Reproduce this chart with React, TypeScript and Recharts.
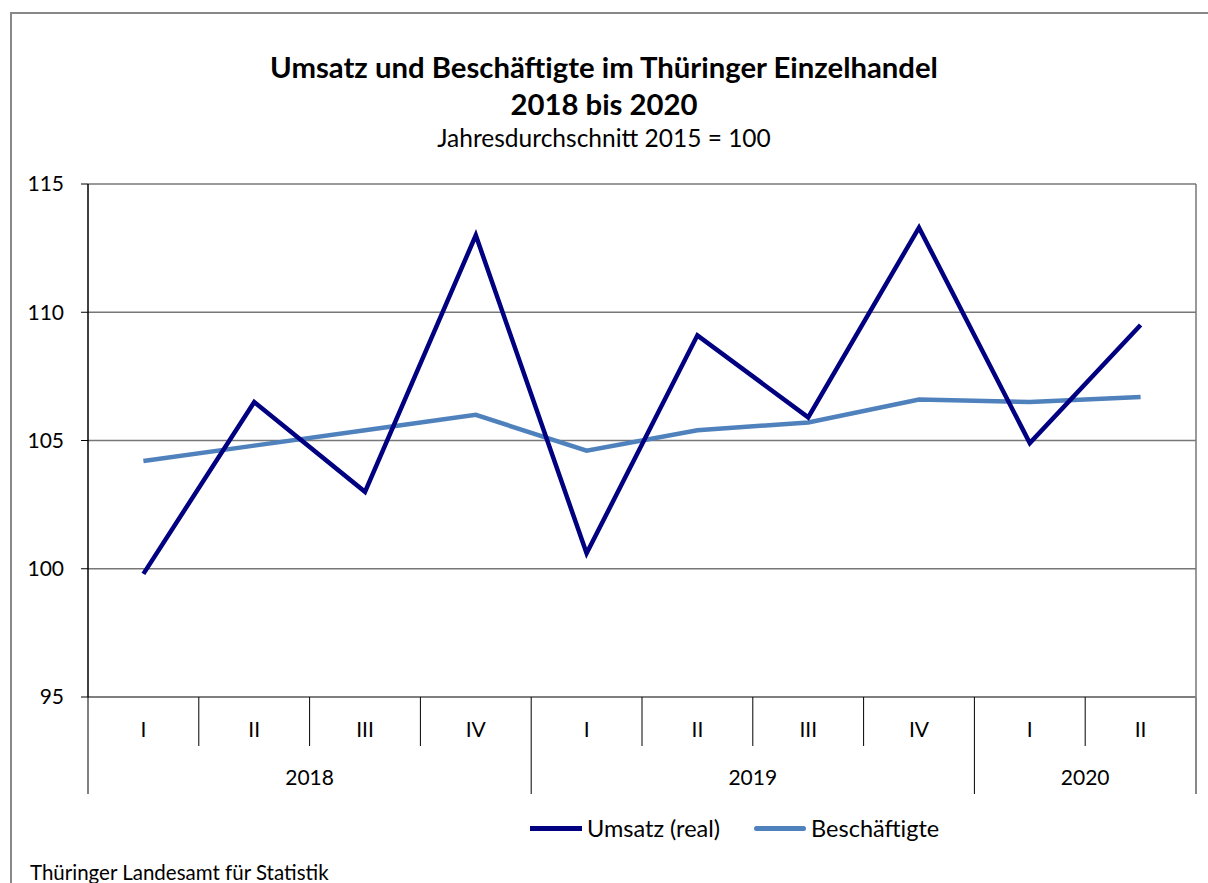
import { CartesianGrid, Line, LineChart, XAxis, YAxis } from 'recharts';

const quarters = ['I', 'II', 'III', 'IV', 'I', 'II', 'III', 'IV', 'I', 'II'];
const years = ['2018', '2018', '2018', '2018', '2019', '2019', '2019', '2019', '2020', '2020'];
const umsatz = [99.8, 106.5, 103.0, 113.0, 100.6, 109.1, 105.9, 113.3, 104.9, 109.5];
const beschaeftigte = [104.2, 104.8, 105.4, 106.0, 104.6, 105.4, 105.7, 106.6, 106.5, 106.7];
const yTicks = [95, 100, 105, 110, 115];

const FONT = 'Lato, "Noto Sans", sans-serif';
const DARK = '#000080';
const LIGHT = '#4f81bd';

const data = quarters.map((q, i) => ({
  period: `${years[i]} ${q}`,
  quarter: q,
  year: years[i],
  umsatz: umsatz[i],
  beschaeftigte: beschaeftigte[i],
}));

const CHART_W = 1208;
const CHART_H = 883;
const MARGIN = { top: 184, right: 12, left: 10, bottom: 76 };
const Y_WIDTH = 78;
const BAND_HALF = (CHART_W - MARGIN.left - MARGIN.right - Y_WIDTH) / quarters.length / 2;

function QuarterTick(props: any) {
  const { x, y, payload } = props;
  const i: number = payload.index ?? props.index ?? 0;
  const half: number = payload.offset || BAND_HALF;
  const left = x - half;
  const yearStart = i === 0 || years[i] !== years[i - 1];
  const isLast = i === quarters.length - 1;
  const groupSize = years.filter((yr) => yr === years[i]).length;
  return (
    <g>
      <line x1={left} x2={left} y1={y} y2={y + (yearStart ? 97 : 49)} stroke="#000" strokeWidth={1} />
      {isLast && <line x1={x + half} x2={x + half} y1={y} y2={y + 97} stroke="#888" strokeWidth={2} />}
      <text x={x} y={y + 40} textAnchor="middle" fontSize={21} fontFamily={FONT} fill="#000">
        {quarters[i]}
      </text>
      {yearStart && (
        <text x={left + groupSize * half} y={y + 88} textAnchor="middle" fontSize={21} fontFamily={FONT} fill="#000">
          {years[i]}
        </text>
      )}
    </g>
  );
}

function LegendItem({ color, label, rounded }: { color: string; label: string; rounded?: boolean }) {
  return (
    <span style={{ display: 'inline-flex', alignItems: 'center', marginRight: 34 }}>
      <span
        style={{
          display: 'inline-block',
          width: 52,
          height: 5,
          background: color,
          borderRadius: rounded ? 3 : 0,
          marginRight: 5,
        }}
      />
      <span>{label}</span>
    </span>
  );
}

export default function App() {
  return (
    <div style={{ position: 'absolute', left: 0, top: 0, width: CHART_W, height: CHART_H, overflow: 'hidden', background: '#fff', fontFamily: FONT }}>
      <div style={{ position: 'absolute', left: 10, top: 12, width: CHART_W - 10, height: CHART_H - 12, borderTop: '2px solid #888', borderLeft: '2px solid #888', boxSizing: 'border-box' }} />
      <div style={{ position: 'absolute', left: 0, width: CHART_W, top: 48, textAlign: 'center', fontWeight: 700, fontSize: 29.3, lineHeight: '37px', color: '#000' }}>
        Umsatz und Beschäftigte im Thüringer Einzelhandel
        <br />
        2018 bis 2020
      </div>
      <div style={{ position: 'absolute', left: 0, width: CHART_W, top: 123, textAlign: 'center', fontSize: 24.5, lineHeight: '30px', color: '#000' }}>
        Jahresdurchschnitt 2015 = 100
      </div>
      <div style={{ position: 'absolute', left: 0, top: 0 }}>
        <LineChart width={CHART_W} height={CHART_H} data={data} margin={MARGIN}>
          <CartesianGrid
            stroke="#777"
            strokeWidth={1.5}
            horizontalValues={yTicks}
            verticalCoordinatesGenerator={({ offset }: any) => [offset.left + offset.width]}
          />
          <XAxis
            dataKey="period"
            height={110}
            padding={{ left: BAND_HALF, right: BAND_HALF }}
            axisLine={{ stroke: '#7f7f7f', strokeWidth: 2 }}
            tickLine={false}
            tickSize={0}
            tickMargin={0}
            interval={0}
            tick={<QuarterTick />}
          />
          <YAxis
            domain={[95, 115]}
            ticks={yTicks}
            width={Y_WIDTH}
            axisLine={{ stroke: '#000', strokeWidth: 1.5 }}
            tickLine={{ stroke: '#000' }}
            tickSize={7}
            tickMargin={17}
            tick={{ fill: '#000', fontSize: 21, fontFamily: FONT }}
            allowDataOverflow
          />
          <Line
            dataKey="beschaeftigte"
            stroke={LIGHT}
            strokeWidth={4.5}
            dot={false}
            activeDot={false}
            isAnimationActive={false}
          />
          <Line
            dataKey="umsatz"
            stroke={DARK}
            strokeWidth={4.5}
            dot={false}
            activeDot={false}
            isAnimationActive={false}
          />
        </LineChart>
      </div>
      <div style={{ position: 'absolute', left: 530, top: 813, fontSize: 23.5, lineHeight: '30px', color: '#000', display: 'flex' }}>
        <LegendItem color={DARK} label="Umsatz (real)" />
        <LegendItem color={LIGHT} label="Beschäftigte" rounded />
      </div>
      <div style={{ position: 'absolute', left: 30, top: 860, fontSize: 20.5, lineHeight: '24px', color: '#000' }}>
        Thüringer Landesamt für Statistik
      </div>
    </div>
  );
}
